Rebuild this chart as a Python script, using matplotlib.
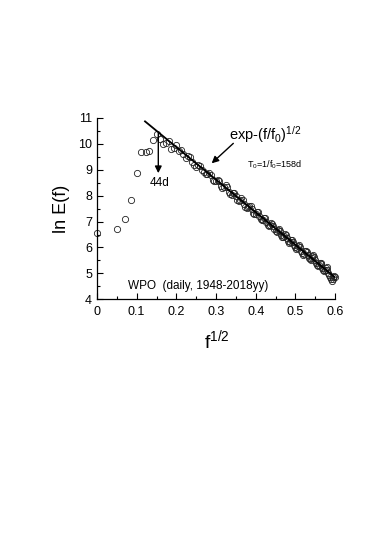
import numpy as np
import matplotlib
matplotlib.use("Agg")
import matplotlib.pyplot as plt
from matplotlib.ticker import MultipleLocator

plt.rcParams['font.family'] = ['Liberation Sans', 'DejaVu Sans']
plt.rcParams['mathtext.fontset'] = 'custom'
plt.rcParams['mathtext.rm'] = 'Liberation Sans'
plt.rcParams['mathtext.it'] = 'Liberation Sans:italic'

# frequency grid (cycles/day), df = 0.0025
freq = np.arange(145) * 0.0025

# ln E(f)
lnE = [6.55, 6.70, 7.10, 7.83, 8.87, 9.68, 9.68, 9.71, 10.15, 10.40,
       10.20, 9.98, 10.05, 10.10, 9.82, 9.85, 9.95, 9.72, 9.75, 9.60,
       9.45, 9.55, 9.50, 9.30, 9.18, 9.12, 9.20, 9.15, 9.00, 8.90,
       8.83, 8.85, 8.88, 8.80, 8.62, 8.55, 8.58, 8.62, 8.55, 8.38,
       8.30, 8.32, 8.40, 8.35, 8.15, 8.05, 8.02, 8.10, 8.12, 8.00,
       7.82, 7.78, 7.85, 7.90, 7.82, 7.68, 7.58, 7.52, 7.55, 7.62,
       7.60, 7.50, 7.35, 7.28, 7.30, 7.38, 7.36, 7.22, 7.10, 7.05,
       7.08, 7.15, 7.12, 7.00, 6.88, 6.84, 6.88, 6.95, 6.92, 6.82,
       6.70, 6.62, 6.60, 6.68, 6.72, 6.65, 6.50, 6.42, 6.40, 6.45,
       6.52, 6.48, 6.35, 6.24, 6.18, 6.20, 6.28, 6.30, 6.22, 6.10,
       6.00, 5.95, 5.98, 6.06, 6.08, 6.00, 5.88, 5.78, 5.72, 5.76,
       5.85, 5.88, 5.82, 5.72, 5.60, 5.55, 5.52, 5.58, 5.68, 5.72,
       5.64, 5.52, 5.40, 5.32, 5.30, 5.34, 5.40, 5.42, 5.35, 5.22,
       5.12, 5.08, 5.12, 5.20, 5.25, 5.15, 5.02, 4.92, 4.85, 4.78,
       4.72, 4.80, 4.88, 4.90, 4.86]

# stretched exponential fit: ln E = a - (f/f0)^(1/2)
T0 = 158.0
a_fit = 12.39
fit_x = [0.121, 0.6]

x = np.sqrt(freq)

fig = plt.figure(figsize=(3.74, 5.36), dpi=100)
ax = fig.add_axes([0.2594, 0.4416, 0.6364, 0.3383])

ax.plot(x, lnE, 'o', mfc='none', mec='#222222', ms=4.5, mew=0.6, clip_on=False)
fx = np.array(fit_x)
ax.plot(fx, a_fit - fx * np.sqrt(T0), color='black', lw=1.3)

ax.set_xlim(0, 0.6)
ax.set_ylim(4, 11)
ax.xaxis.set_major_locator(MultipleLocator(0.1))
ax.xaxis.set_minor_locator(MultipleLocator(0.05))
ax.yaxis.set_major_locator(MultipleLocator(1))
ax.yaxis.set_minor_locator(MultipleLocator(0.5))
ax.xaxis.set_major_formatter(plt.FuncFormatter(lambda v, p: '0' if abs(v) < 1e-9 else '%g' % v))
ax.tick_params(which='both', direction='in', labelsize=9, width=0.8)
ax.tick_params(which='major', length=4)
ax.tick_params(which='minor', length=2.5)
ax.tick_params(axis='x', pad=5)
for s in ['top', 'right']:
    ax.spines[s].set_visible(False)
for s in ['left', 'bottom']:
    ax.spines[s].set_linewidth(0.9)

ax.set_xlabel(r'$\mathregular{f^{1/2}}$', fontsize=14, labelpad=11)
ax.xaxis.set_label_coords(0.505, -0.16)
ax.xaxis.label.set_va('top')
ax.set_ylabel('ln E(f)', fontsize=13, labelpad=6)

ax.text(0.3335, 10.18, r'exp-(f/f$\mathregular{_0}$)$\mathregular{^{1/2}}$', fontsize=10.5)
ax.annotate('', xy=(0.289, 9.25), xytext=(0.3436, 10.02),
            arrowprops=dict(arrowstyle='-|>', color='black', lw=1.0,
                            mutation_scale=10, shrinkA=0, shrinkB=0))
ax.text(0.379, 9.07, r'T$\mathregular{_0}$=1/f$\mathregular{_0}$=158d', fontsize=6.5)
ax.annotate('', xy=(0.1545, 8.87), xytext=(0.1545, 10.42),
            arrowprops=dict(arrowstyle='-|>', color='black', lw=1.0,
                            mutation_scale=10, shrinkA=0, shrinkB=0))
ax.text(0.1336, 8.37, '44d', fontsize=8.5)
ax.text(0.079, 4.38, 'WPO  (daily, 1948-2018yy)', fontsize=8.5)

fig.savefig('out.png', dpi=100)
